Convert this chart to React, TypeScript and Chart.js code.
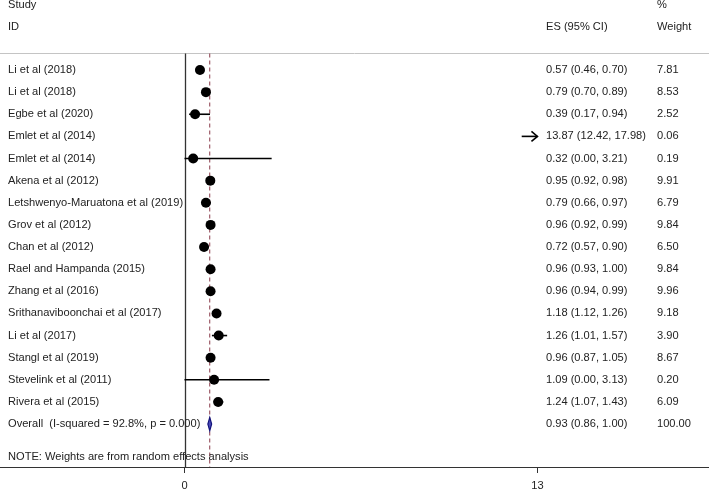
import React, { useEffect, useRef } from "react";
import { Chart, registerables } from "chart.js";

Chart.register(...registerables);

// ---------- data ----------
const studies = [
  "Li et al (2018)",
  "Li et al (2018)",
  "Egbe et al (2020)",
  "Emlet et al (2014)",
  "Emlet et al (2014)",
  "Akena et al (2012)",
  "Letshwenyo-Maruatona et al (2019)",
  "Grov et al (2012)",
  "Chan et al (2012)",
  "Rael and Hampanda (2015)",
  "Zhang et al (2016)",
  "Srithanaviboonchai et al (2017)",
  "Li et al (2017)",
  "Stangl et al (2019)",
  "Stevelink et al (2011)",
  "Rivera et al (2015)",
];
const es = [0.57, 0.79, 0.39, 13.87, 0.32, 0.95, 0.79, 0.96, 0.72, 0.96, 0.96, 1.18, 1.26, 0.96, 1.09, 1.24];
const ciLow = [0.46, 0.7, 0.17, 12.42, 0.0, 0.92, 0.66, 0.92, 0.57, 0.93, 0.94, 1.12, 1.01, 0.87, 0.0, 1.07];
const ciHigh = [0.7, 0.89, 0.94, 17.98, 3.21, 0.98, 0.97, 0.99, 0.9, 1.0, 0.99, 1.26, 1.57, 1.05, 3.13, 1.43];
const weights = [7.81, 8.53, 2.52, 0.06, 0.19, 9.91, 6.79, 9.84, 6.5, 9.84, 9.96, 9.18, 3.9, 8.67, 0.2, 6.09];

const overallLabel = "Overall  (I-squared = 92.8%, p = 0.000)";
const overallES = [0.93];
const overallLow = [0.86];
const overallHigh = [1.0];
const overallWeight = [100.0];

const xTicks = [0, 13];
const noteText = "NOTE: Weights are from random effects analysis";
const headerStudy = ["Study", "ID"];
const headerES = "ES (95% CI)";
const headerWeight = ["%", "Weight"];

// ---------- layout constants ----------
const FONT = '"Liberation Sans", Arial, sans-serif';
const FS = 11.1;
const PLOT_MIN = xTicks[0];
const PLOT_MAX = xTicks[xTicks.length - 1];
const X_MIN = -6.7956;
const X_MAX = 19.3186;
const Y_MIN = -2.163;
const Y_MAX = 18.94;
const AXIS_H = 23;
const ROW_OVERALL = studies.length + 1;
const ROW_NOTE = 18.49;
const ROW_SEP = 0.232;
const ROW_H1 = -1.937;
const ROW_H2 = -0.943;
const COL_LABEL = 8;
const COL_ES = 546;
const COL_W = 657;

const fmt = (v: number) => v.toFixed(2);

const forestPlugin = {
  id: "forest",
  beforeDatasetsDraw(chart: any) {
    const { ctx, scales, chartArea } = chart;
    const x = scales.x;
    const y = scales.y;
    const sepY = Math.round(y.getPixelForValue(ROW_SEP)) + 0.5;
    ctx.save();
    // separator
    ctx.strokeStyle = "#c4c4c4";
    ctx.lineWidth = 1;
    ctx.beginPath();
    ctx.moveTo(0, sepY);
    ctx.lineTo(chart.width, sepY);
    ctx.stroke();
    // zero line
    const x0 = Math.round(x.getPixelForValue(0)) + 0.5;
    ctx.strokeStyle = "#333";
    ctx.lineWidth = 1.3;
    ctx.beginPath();
    ctx.moveTo(x0, sepY);
    ctx.lineTo(x0, chartArea.bottom);
    ctx.stroke();
    // overall dashed line
    const xo = x.getPixelForValue(overallES[0]);
    ctx.strokeStyle = "#8a3a4a";
    ctx.lineWidth = 1;
    ctx.setLineDash([4, 3]);
    ctx.beginPath();
    ctx.moveTo(xo, sepY);
    ctx.lineTo(xo, chartArea.bottom);
    ctx.stroke();
    ctx.setLineDash([]);
    // CI lines
    ctx.strokeStyle = "#000";
    ctx.lineWidth = 1.6;
    for (let i = 0; i < studies.length; i++) {
      const lo = Math.max(ciLow[i], PLOT_MIN);
      const hi = Math.min(ciHigh[i], PLOT_MAX);
      if (lo >= PLOT_MAX || hi <= PLOT_MIN) continue;
      const py = y.getPixelForValue(i + 1);
      const pl = x.getPixelForValue(lo);
      const ph = x.getPixelForValue(hi);
      ctx.beginPath();
      ctx.moveTo(pl, py);
      ctx.lineTo(ph, py);
      ctx.stroke();
      if (ciHigh[i] > PLOT_MAX) {
        ctx.beginPath();
        ctx.moveTo(ph - 6, py - 5);
        ctx.lineTo(ph, py);
        ctx.lineTo(ph - 6, py + 5);
        ctx.stroke();
      }
    }
    // diamond
    const dy = y.getPixelForValue(ROW_OVERALL);
    const dl = x.getPixelForValue(overallLow[0]);
    const dh = x.getPixelForValue(overallHigh[0]);
    const half = 0.3 * (y.getPixelForValue(1) - y.getPixelForValue(0));
    ctx.beginPath();
    ctx.moveTo(dl, dy);
    ctx.lineTo(xo, dy - half);
    ctx.lineTo(dh, dy);
    ctx.lineTo(xo, dy + half);
    ctx.closePath();
    ctx.fillStyle = "#4a4ab8";
    ctx.fill();
    ctx.strokeStyle = "#12127a";
    ctx.lineWidth = 1.2;
    ctx.stroke();
    ctx.restore();
  },
  afterDatasetsDraw(chart: any) {
    const { ctx, scales } = chart;
    const y = scales.y;
    ctx.save();
    ctx.fillStyle = "#222";
    ctx.font = `${FS}px ${FONT}`;
    ctx.textBaseline = "middle";
    ctx.textAlign = "left";
    ctx.fillText(headerStudy[0], COL_LABEL, y.getPixelForValue(ROW_H1));
    ctx.fillText(headerStudy[1], COL_LABEL, y.getPixelForValue(ROW_H2));
    ctx.fillText(headerES, COL_ES, y.getPixelForValue(ROW_H2));
    ctx.fillText(headerWeight[0], COL_W, y.getPixelForValue(ROW_H1));
    ctx.fillText(headerWeight[1], COL_W, y.getPixelForValue(ROW_H2));
    for (let i = 0; i < studies.length; i++) {
      const py = y.getPixelForValue(i + 1);
      ctx.fillText(studies[i], COL_LABEL, py);
      ctx.fillText(`${fmt(es[i])} (${fmt(ciLow[i])}, ${fmt(ciHigh[i])})`, COL_ES, py);
      ctx.fillText(fmt(weights[i]), COL_W, py);
    }
    const po = y.getPixelForValue(ROW_OVERALL);
    ctx.fillText(overallLabel, COL_LABEL, po);
    ctx.fillText(`${fmt(overallES[0])} (${fmt(overallLow[0])}, ${fmt(overallHigh[0])})`, COL_ES, po);
    ctx.fillText(fmt(overallWeight[0]), COL_W, po);
    ctx.fillText(noteText, COL_LABEL, y.getPixelForValue(ROW_NOTE));
    ctx.restore();
  },
};

export default function App() {
  const canvasRef = useRef<HTMLCanvasElement | null>(null);

  useEffect(() => {
    const canvas = canvasRef.current;
    if (!canvas) return;
    const pointData = es
      .map((v, i) => ({ x: v, y: i + 1 }))
      .filter((p) => p.x >= PLOT_MIN && p.x <= PLOT_MAX);
    const chart = new Chart(canvas, {
      type: "scatter",
      data: {
        datasets: [
          {
            label: "ES",
            data: pointData,
            pointRadius: 5,
            pointHoverRadius: 5,
            pointBackgroundColor: "#000",
            pointBorderColor: "#000",
            pointBorderWidth: 0,
          },
        ],
      },
      options: {
        responsive: false,
        animation: false,
        events: [],
        layout: { padding: 0, autoPadding: false },
        plugins: { legend: { display: false }, tooltip: { enabled: false } },
        scales: {
          x: {
            type: "linear",
            min: X_MIN,
            max: X_MAX,
            afterBuildTicks: (s: any) => {
              s.ticks = xTicks.map((v) => ({ value: v }));
            },
            afterFit: (s: any) => {
              s.height = AXIS_H;
            },
            ticks: {
              color: "#222",
              font: { family: FONT, size: FS },
              padding: 6,
              maxRotation: 0,
              autoSkip: false,
              callback: (v: any) => String(v),
            },
            grid: { drawOnChartArea: false, drawTicks: true, tickLength: 6, color: "#333", lineWidth: 1 },
            border: { display: true, color: "#333", width: 1 },
          },
          y: { type: "linear", display: false, reverse: true, min: Y_MIN, max: Y_MAX },
        },
      },
      plugins: [forestPlugin],
    });
    return () => chart.destroy();
  }, []);

  return (
    <div style={{ position: "fixed", left: 0, top: 0, width: 709, height: 490, background: "#fff" }}>
      <canvas ref={canvasRef} width={709} height={490} style={{ display: "block" }} />
    </div>
  );
}
